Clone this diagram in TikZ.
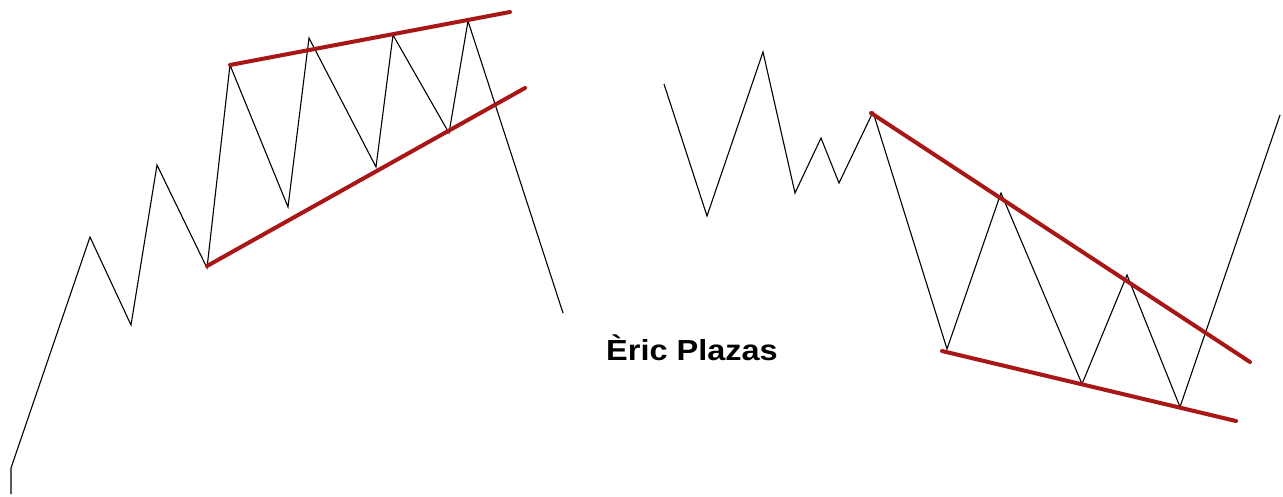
\documentclass[tikz,border=0pt]{standalone}
\usepackage{fontspec}
\setmainfont{Liberation Sans}
\definecolor{trendred}{RGB}{168,22,22}
\tikzset{
  price/.style={draw=black, line width=1.1pt, line join=miter},
  trend/.style={draw=trendred, line width=4pt, line cap=round},
  label/.style={font=\bfseries\fontsize{29}{34}\selectfont, inner sep=0pt, xscale=1.12}
}
\begin{document}
\begin{tikzpicture}[x=1pt,y=-1pt]
\useasboundingbox (0,0) rectangle (1283,496);
% left chart points
\coordinate (a0) at (11,494);
\coordinate (a1) at (11,468);
\coordinate (a2) at (90,237);
\coordinate (a3) at (131,325);
\coordinate (a4) at (157,165);
\coordinate (a5) at (207,268);
\coordinate (a6) at (230,65);
\coordinate (a7) at (288,207);
\coordinate (a8) at (309,38);
\coordinate (a9) at (376,167);
\coordinate (a10) at (393,35);
\coordinate (a11) at (449,133);
\coordinate (a12) at (468,21);
\coordinate (a13) at (563,313);
\draw[price] (a0) -- (a1) -- (a2) -- (a3) -- (a4) -- (a5) -- (a6) -- (a7) -- (a8) -- (a9) -- (a10) -- (a11) -- (a12) -- (a13);
\coordinate (lu1) at (230,65);
\coordinate (lu2) at (510,12);
\coordinate (ll1) at (207,266);
\coordinate (ll2) at (525,88);
\draw[trend] (lu1) -- (lu2);
\draw[trend] (ll1) -- (ll2);
% right chart points
\coordinate (b0) at (664,84);
\coordinate (b1) at (707,216);
\coordinate (b2) at (763,52);
\coordinate (b3) at (795,193);
\coordinate (b4) at (821,138);
\coordinate (b5) at (839,183);
\coordinate (b6) at (873,112);
\coordinate (b7) at (947,349);
\coordinate (b8) at (1001,193);
\coordinate (b9) at (1082,384);
\coordinate (b10) at (1127,275);
\coordinate (b11) at (1180,407);
\coordinate (b12) at (1280,115);
\draw[price] (b0) -- (b1) -- (b2) -- (b3) -- (b4) -- (b5) -- (b6) -- (b7) -- (b8) -- (b9) -- (b10) -- (b11) -- (b12);
\coordinate (ru1) at (871,113);
\coordinate (ru2) at (1250,362);
\coordinate (rl1) at (942,351);
\coordinate (rl2) at (1236,421);
\draw[trend] (ru1) -- (ru2);
\draw[trend] (rl1) -- (rl2);
\node[label, anchor=base] (name) at (692,360) {Èric Plazas};
\end{tikzpicture}
\end{document}
